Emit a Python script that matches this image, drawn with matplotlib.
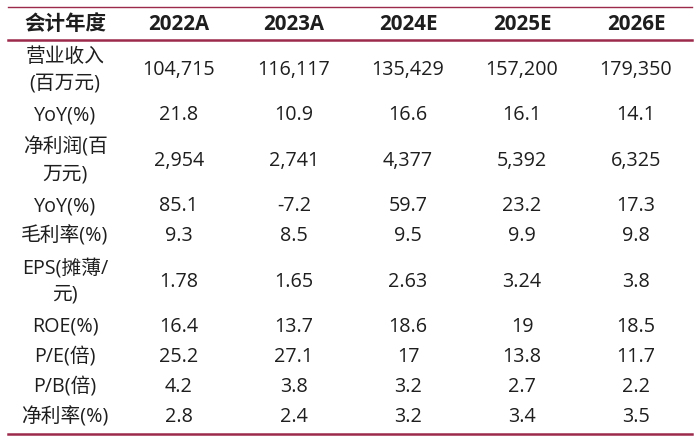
import matplotlib
matplotlib.use("Agg")
import matplotlib.pyplot as plt

plt.rcParams['font.family'] = ['Open Sans', 'Noto Sans CJK SC', 'DejaVu Sans']

# table content
header = ['会计年度', '2022A', '2023A', '2024E', '2025E', '2026E']
row_labels = ['营业收入\n(百万元)', 'YoY(%)', '净利润(百\n万元)', 'YoY(%)', '毛利率(%)',
              'EPS(摊薄/\n元)', 'ROE(%)', 'P/E(倍)', 'P/B(倍)', '净利率(%)']
revenue = ['104,715', '116,117', '135,429', '157,200', '179,350']
revenue_yoy = ['21.8', '10.9', '16.6', '16.1', '14.1']
net_profit = ['2,954', '2,741', '4,377', '5,392', '6,325']
profit_yoy = ['85.1', '-7.2', '59.7', '23.2', '17.3']
gross_margin = ['9.3', '8.5', '9.5', '9.9', '9.8']
eps = ['1.78', '1.65', '2.63', '3.24', '3.8']
roe = ['16.4', '13.7', '18.6', '19', '18.5']
pe = ['25.2', '27.1', '17', '13.8', '11.7']
pb = ['4.2', '3.8', '3.2', '2.7', '2.2']
net_margin = ['2.8', '2.4', '3.2', '3.4', '3.5']
rows = [revenue, revenue_yoy, net_profit, profit_yoy, gross_margin,
        eps, roe, pe, pb, net_margin]

W, H = 700, 442
fig = plt.figure(figsize=(W / 100, H / 100), dpi=100)
ax = fig.add_axes([0, 0, 1, 1])
ax.set_xlim(0, W)
ax.set_ylim(H, 0)
ax.axis('off')

line_col = '#9c2a4a'
txt_col = '#1e1e1e'
fs = 14.2
col_x = [65, 179, 294, 408, 522, 636]

# rules
ax.plot([8, 692], [7, 7], color=line_col, lw=1.0)
ax.plot([8, 692], [39.5, 39.5], color=line_col, lw=1.8)
ax.plot([8, 692], [433.5, 433.5], color=line_col, lw=1.8)

for x, h in zip(col_x, header):
    ax.text(x, 24, h, ha='center', va='center', fontsize=fs + 0.6,
            fontweight='bold', color=txt_col)

unit = 30.2
y = 40
for label, vals in zip(row_labels, rows):
    n = label.count('\n') + 1
    yc = y + n * unit / 2
    ax.text(col_x[0], yc, label, ha='center', va='center', fontsize=fs,
            color=txt_col, linespacing=1.45)
    for x, v in zip(col_x[1:], vals):
        ax.text(x, yc, v, ha='center', va='center', fontsize=fs, color=txt_col)
    y += n * unit

fig.savefig('out.png', dpi=100, facecolor='white')
